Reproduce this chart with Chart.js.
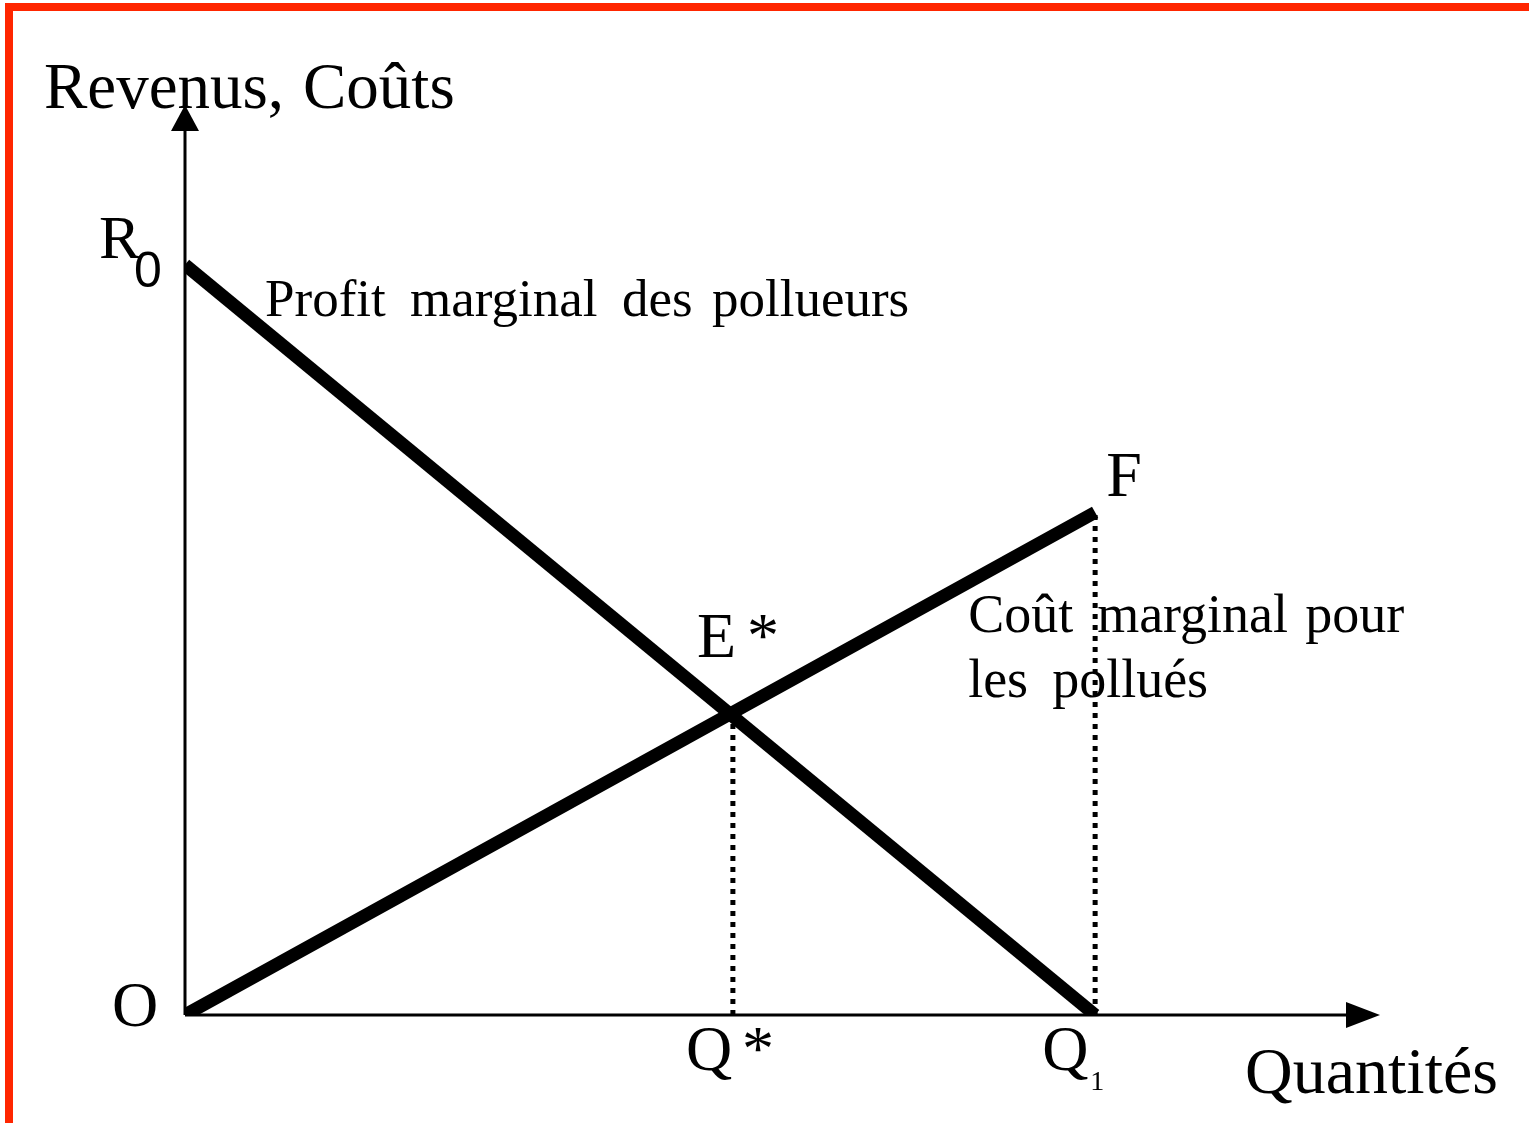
<!DOCTYPE html>
<html>
<head>
<meta charset="utf-8">
<script src="https://cdn.jsdelivr.net/npm/chart.js@4"></script>
<style>
  html, body { margin: 0; padding: 0; background: #fff; }
  #wrap { position: relative; width: 1529px; height: 1123px; overflow: hidden; }
  #frame { position: absolute; left: 5px; top: 3px; right: -10px; bottom: -10px;
           border-top: 8px solid #ff2600; border-left: 8px solid #ff2600; }
  canvas { position: absolute; left: 0; top: 0; }
</style>
</head>
<body>
<div id="wrap">
  <div id="frame"></div>
  <canvas id="myChart" width="1529" height="1123"></canvas>
</div>
<script>
// quantities on the x axis, revenue / cost on the y axis
const profitQ = [0, 10];
const profitValues = [10, 0];      // profit marginal des pollueurs (R0 -> Q1)
const costQ = [0, 10];
const costValues = [0, 6.7];       // cout marginal pour les pollues (O -> F)
const eqQ = 6.02;                  // Q*
const eqValue = 4.02;              // E*
const q1 = 10;                     // Q1
const xMax = 13.13;
const yMax = 12.13;

const serif = '"Liberation Serif", "Times New Roman", serif';
const sans = '"Liberation Sans", Arial, sans-serif';

const toPoints = (xs, ys) => xs.map((x, i) => ({ x: x, y: ys[i] }));

// axes with arrows + all the text labels
const sketchPlugin = {
  id: 'sketch',
  afterDatasetsDraw(chart) {
    const ctx = chart.ctx;
    const xs = chart.scales.x;
    const ys = chart.scales.y;
    const area = chart.chartArea;
    const x0 = xs.getPixelForValue(0);
    const y0 = ys.getPixelForValue(0);

    ctx.save();
    ctx.strokeStyle = '#000';
    ctx.fillStyle = '#000';
    ctx.lineWidth = 3;
    ctx.beginPath();
    ctx.moveTo(x0, y0);
    ctx.lineTo(x0, area.top + 20);
    ctx.moveTo(x0, y0);
    ctx.lineTo(area.right - 20, y0);
    ctx.stroke();
    // arrow heads
    ctx.beginPath();
    ctx.moveTo(x0, area.top);
    ctx.lineTo(x0 - 14, area.top + 26);
    ctx.lineTo(x0 + 14, area.top + 26);
    ctx.closePath();
    ctx.fill();
    ctx.beginPath();
    ctx.moveTo(area.right, y0);
    ctx.lineTo(area.right - 34, y0 - 13);
    ctx.lineTo(area.right - 34, y0 + 13);
    ctx.closePath();
    ctx.fill();

    const text = (str, x, y, size, font) => {
      ctx.font = size + 'px ' + (font || serif);
      ctx.textAlign = 'left';
      ctx.textBaseline = 'alphabetic';
      ctx.fillText(str, x, y);
    };

    const r0y = ys.getPixelForValue(profitValues[0]);
    const fx = xs.getPixelForValue(costQ[1]);
    const fy = ys.getPixelForValue(costValues[1]);
    const ex = xs.getPixelForValue(eqQ);
    const ey = ys.getPixelForValue(eqValue);
    const q1x = xs.getPixelForValue(q1);

    text('Revenus,', x0 - 141, area.top + 3, 65);
    text('Coûts', x0 + 118, area.top + 3, 65);
    text('R', x0 - 86, r0y - 7, 62);
    text('0', x0 - 51, r0y + 22, 50, sans);
    text('Profit', x0 + 80, r0y + 51, 53);
    text('marginal', x0 + 225, r0y + 51, 53);
    text('des', x0 + 437, r0y + 51, 53);
    text('pollueurs', x0 + 527, r0y + 51, 53);
    text('F', fx + 11, fy - 16, 64);
    text('E', ex - 36, ey - 56, 64);
    text('*', ex + 14, ey - 56, 64);
    text('Coût', fx - 127, fy + 120, 54);
    text('marginal', fx + 2, fy + 120, 54);
    text('pour', fx + 210, fy + 120, 54);
    text('les', fx - 127, fy + 185, 54);
    text('pollués', fx - 43, fy + 185, 54);
    text('O', x0 - 73, y0 + 11, 64);
    text('Q', ex - 47, y0 + 55, 64);
    text('*', ex + 9, y0 + 55, 64);
    text('Q', q1x - 53, y0 + 55, 64);
    text('1', q1x - 5, y0 + 75, 28);
    text('Quantités', area.right - 135, y0 + 78, 66);
    ctx.restore();
  }
};

new Chart(document.getElementById('myChart'), {
  type: 'scatter',
  data: {
    datasets: [
      {
        label: 'Profit marginal des pollueurs',
        data: toPoints(profitQ, profitValues),
        showLine: true,
        borderColor: '#000',
        borderWidth: 13,
        borderCapStyle: 'butt',
        pointRadius: 0
      },
      {
        label: 'Coût marginal pour les pollués',
        data: toPoints(costQ, costValues),
        showLine: true,
        borderColor: '#000',
        borderWidth: 13,
        borderCapStyle: 'butt',
        pointRadius: 0
      },
      {
        label: 'Q*',
        data: [{ x: eqQ, y: 0 }, { x: eqQ, y: eqValue }],
        showLine: true,
        borderColor: '#000',
        borderWidth: 5,
        borderDash: [5, 6],
        pointRadius: 0
      },
      {
        label: 'Q1',
        data: [{ x: q1, y: 0 }, { x: q1, y: costValues[1] }],
        showLine: true,
        borderColor: '#000',
        borderWidth: 5,
        borderDash: [5, 6],
        pointRadius: 0
      }
    ]
  },
  options: {
    responsive: false,
    animation: false,
    events: [],
    layout: { padding: { left: 185, right: 149, top: 105, bottom: 108 } },
    plugins: { legend: { display: false }, tooltip: { enabled: false } },
    scales: {
      x: { type: 'linear', min: 0, max: xMax, display: false },
      y: { type: 'linear', min: 0, max: yMax, display: false }
    }
  },
  plugins: [sketchPlugin]
});
</script>
</body>
</html>
